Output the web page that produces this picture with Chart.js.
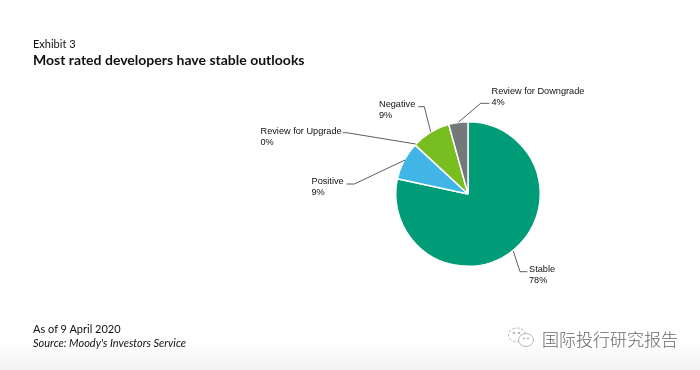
<!DOCTYPE html>
<html><head><meta charset="utf-8">
<style>
html,body{margin:0;padding:0;width:700px;height:370px;overflow:hidden;background:#fff}
#bg{position:absolute;left:0;top:340px;width:700px;height:30px;background:linear-gradient(#ffffff,#f3f3f3)}
#wrap{position:absolute;left:0;top:0;width:700px;height:370px}
.t{position:absolute;white-space:nowrap;color:#111;font-family:"Lato",sans-serif}
#ex{left:33px;top:37px;font-size:11px;line-height:14px}
#ti{left:33px;top:51px;font-size:14px;line-height:18px;font-weight:700}
#as{left:33px;top:322px;font-size:11px;line-height:14px}
#so{left:33px;top:336px;font-size:11px;line-height:14px;font-style:italic}
#wm{left:542px;top:328px;font-size:17px;line-height:22px;color:#666;font-family:"Noto Sans CJK SC";font-weight:300}
#ic{position:absolute;left:507px;top:326px}
</style></head><body>
<div id="bg"></div>
<div id="wrap"><canvas id="c" width="700" height="370"></canvas></div>
<div class="t" id="ex">Exhibit 3</div>
<div class="t" id="ti">Most rated developers have stable outlooks</div>
<div class="t" id="as">As of 9 April 2020</div>
<div class="t" id="so">Source: Moody's Investors Service</div>
<svg id="ic" width="28" height="24" viewBox="0 0 28 24" fill="none" stroke="#999" stroke-width="0.7"><ellipse cx="10" cy="9" rx="8.5" ry="7" stroke-dasharray="3 1.5"/><ellipse cx="19" cy="14" rx="7.5" ry="6.5" fill="#fff"/><circle cx="7" cy="7" r="0.7" fill="#999"/><circle cx="12" cy="7" r="0.7" fill="#999"/><circle cx="17" cy="12.5" r="0.6" fill="#999"/><circle cx="21" cy="12.5" r="0.6" fill="#999"/></svg>
<div class="t" id="wm">国际投行研究报告</div>
<script src="https://cdn.jsdelivr.net/npm/chart.js@4/dist/chart.umd.min.js"></script>
<script>
const categories = ["Stable","Positive","Review for Upgrade","Negative","Review for Downgrade"];
const shares = [78.4,8.5,0,8.8,4.3];
const sliceColors = ["#009B77","#41B6E6","#41B6E6","#78BE20","#75787B"];
const leaders = [
  {pts:[[45.3,57],[52,77.7],[59.3,77.7]],x:61,y:75.6},
  {pts:[[-63,-34],[-113.7,-10],[-121.3,-10]],x:-156.5,y:-12.6},
  {pts:[[-52.3,-50],[-121.3,-61.3],[-125.3,-61.3]],x:-207.5,y:-62.6},
  {pts:[[-37.3,-62.3],[-43.7,-87.3],[-49.7,-87.3]],x:-89,y:-89.6},
  {pts:[[-9.7,-71.7],[12.7,-90.7],[21.3,-90.7]],x:23.5,y:-103}
];
const leaderPlugin = {
  id:'leaders',
  afterDatasetsDraw(chart){
    const arc = chart.getDatasetMeta(0).data[0];
    const cx = arc.x, cy = arc.y, g = chart.ctx;
    g.save();
    g.strokeStyle = '#333'; g.lineWidth = 0.8;
    g.fillStyle = '#111';
    g.font = '9.2px "Liberation Sans", Arial, sans-serif';
    g.textBaseline = 'middle'; g.textAlign = 'left';
    leaders.forEach((l,i)=>{
      g.beginPath();
      l.pts.forEach((p,j)=> j ? g.lineTo(cx+p[0],cy+p[1]) : g.moveTo(cx+p[0],cy+p[1]));
      g.stroke();
      g.fillText(categories[i], cx+l.x, cy+l.y);
      g.fillText(Math.round(shares[i])+'%', cx+l.x, cy+l.y+11);
    });
    g.restore();
  }
};
new Chart(document.getElementById('c'),{
  type:'pie',
  data:{labels:categories,datasets:[{data:shares,backgroundColor:sliceColors,borderColor:'#fff',borderWidth:1.5}]},
  options:{
    responsive:false,animation:false,
    layout:{padding:{left:395,right:159,top:121,bottom:103}},
    plugins:{legend:{display:false},tooltip:{enabled:false},title:{display:false}}
  },
  plugins:[leaderPlugin]
});
</script>
</body></html>
